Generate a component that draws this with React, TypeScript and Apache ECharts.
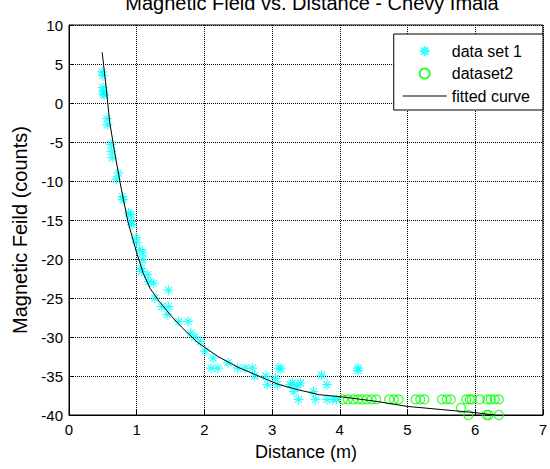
import React, { useEffect, useRef } from "react";
import * as echarts from "echarts";

const titleText = "Magnetic Field vs. Distance - Chevy Imala";
const xName = "Distance (m)";
const yName = "Magnetic Feild (counts)";
const seriesNames = ["data set 1", "dataset2", "fitted curve"];

const set1X = [0.49, 0.5, 0.5, 0.51, 0.51, 0.52, 0.56, 0.57, 0.62, 0.63, 0.64, 0.7, 0.73, 0.79, 0.8, 0.88, 0.91, 0.92, 0.93, 0.99, 1.0, 1.04, 1.09, 1.09, 1.07, 1.07, 1.16, 1.18, 1.25, 1.47, 1.27, 1.37, 1.47, 1.45, 1.62, 1.76, 1.8, 1.86, 1.94, 2.01, 2.13, 2.1, 2.2, 2.35, 2.49, 2.6, 2.71, 2.74, 2.91, 2.93, 3.1, 3.13, 3.05, 3.08, 3.3, 3.42, 3.27, 3.37, 3.32, 3.39, 3.61, 3.64, 3.73, 3.81, 3.81, 3.9, 3.95, 4.27, 4.27];
const set1Y = [4.0, 3.5, 2.0, 1.5, 1.2, 1.0, -2.0, -2.8, -5.3, -6.2, -7.0, -9.8, -9.0, -12.0, -12.4, -14.1, -14.3, -15.2, -15.6, -17.3, -17.9, -18.8, -19.2, -20.1, -21.2, -21.6, -22.0, -22.9, -23.1, -24.0, -25.0, -26.1, -26.1, -27.1, -28.0, -28.0, -29.5, -30.0, -30.6, -31.8, -32.7, -34.0, -34.0, -33.3, -34.0, -34.0, -34.0, -35.0, -35.0, -36.1, -34.0, -34.1, -35.3, -36.1, -35.9, -35.9, -36.1, -36.3, -37.0, -38.0, -37.0, -38.0, -34.9, -36.1, -38.0, -38.0, -38.0, -34.0, -34.3];

const set2X = [4.05, 4.12, 4.2, 4.27, 4.33, 4.4, 4.47, 4.54, 4.73, 4.8, 4.87, 5.12, 5.19, 5.25, 5.51, 5.58, 5.64, 5.87, 5.92, 5.95, 6.07, 6.18, 6.23, 6.29, 6.35, 5.79, 5.9, 6.17, 6.2, 6.35];
const set2Y = [-38, -38, -38, -38, -38, -38, -38, -38, -38, -38, -38, -38, -38, -38, -38, -38, -38, -38, -38, -38, -38, -38, -38, -38, -38, -39.1, -40, -40, -40, -40];

const fitX = [0.49, 0.55, 0.6, 0.68, 0.77, 0.87, 1.0, 1.1, 1.2, 1.33, 1.5, 1.67, 1.9, 2.2, 2.5, 2.8, 3.1, 3.4, 3.7, 4.05, 4.5, 5.0, 5.5, 6.0, 6.3];
const fitY = [6.5, 1.9, -2.4, -6.6, -10.9, -15.2, -19.2, -21.9, -23.8, -25.4, -27.2, -28.8, -30.7, -32.5, -33.9, -35.0, -36.1, -36.8, -37.4, -37.7, -38.2, -38.9, -39.3, -39.7, -40];

const asterisk = "path://M5,0L5,10M0,5L10,5M1.5,1.5L8.5,8.5M1.5,8.5L8.5,1.5";
const lineIcon = "path://M0,0L44,0L44,1L0,1Z";
const FONT = "'Liberation Sans', Arial, sans-serif";

export default function App() {
  const ref = useRef<HTMLDivElement>(null);
  useEffect(() => {
    if (!ref.current) return;
    const chart = echarts.init(ref.current, undefined, { renderer: "svg" });
    const gridLine = { show: true, lineStyle: { color: "#000", type: "dotted" as const, width: 1 } };
    chart.setOption({
      animation: false,
      backgroundColor: "#fff",
      textStyle: { fontFamily: FONT },
      title: {
        text: titleText,
        left: 307,
        textAlign: "center",
        top: -12,
        textStyle: { fontFamily: FONT, fontSize: 20, fontWeight: "normal", color: "#000" },
      },
      grid: { left: 69, right: 1, top: 25, bottom: 54, show: true, borderColor: "#000", borderWidth: 1, backgroundColor: "#fff" },
      legend: {
        orient: "vertical",
        right: 7,
        top: 34,
        backgroundColor: "#fff",
        borderColor: "#000",
        borderWidth: 1,
        borderRadius: 0,
        padding: [8, 13, 5, 9],
        itemWidth: 44,
        itemHeight: 10,
        itemGap: 4.5,
        itemTextGap: 5,
        textStyle: { fontFamily: FONT, fontSize: 16, color: "#000", lineHeight: 18 },
        data: [
          { name: seriesNames[0] },
          { name: seriesNames[1] },
          { name: seriesNames[2], icon: lineIcon, itemStyle: { color: "#000", borderWidth: 0 } },
        ],
      },
      xAxis: {
        type: "value",
        min: 0,
        max: 7,
        interval: 1,
        name: xName,
        nameLocation: "middle",
        nameGap: 28,
        nameTextStyle: { fontFamily: FONT, fontSize: 18, color: "#000" },
        axisLine: { show: true, onZero: false, lineStyle: { color: "#000", width: 1 } },
        axisTick: { show: true, inside: true, length: 5, lineStyle: { color: "#000" } },
        axisLabel: { fontFamily: FONT, fontSize: 15, color: "#000", margin: 7 },
        splitLine: gridLine,
      },
      yAxis: {
        type: "value",
        min: -40,
        max: 10,
        interval: 5,
        name: yName,
        nameLocation: "middle",
        nameGap: 36,
        nameTextStyle: { fontFamily: FONT, fontSize: 20, color: "#000", padding: [0, 20, 0, 0] },
        axisLine: { show: true, onZero: false, lineStyle: { color: "#000", width: 1 } },
        axisTick: { show: true, inside: true, length: 5, lineStyle: { color: "#000" } },
        axisLabel: { fontFamily: FONT, fontSize: 15, color: "#000", margin: 6 },
        splitLine: gridLine,
      },
      series: [
        {
          name: seriesNames[0],
          type: "scatter",
          symbol: asterisk,
          symbolSize: 10,
          itemStyle: { color: "rgba(0,0,0,0)", borderColor: "#00FFFF", borderWidth: 1.2 },
          data: set1X.map((x, i) => [x, set1Y[i]]),
          z: 3,
        },
        {
          name: seriesNames[1],
          type: "scatter",
          symbol: "circle",
          symbolSize: 9,
          itemStyle: { color: "rgba(0,0,0,0)", borderColor: "#00FF00", borderWidth: 1.2 },
          data: set2X.map((x, i) => [x, set2Y[i]]),
          z: 3,
        },
        {
          name: seriesNames[2],
          type: "line",
          symbol: "none",
          lineStyle: { color: "#000", width: 1 },
          itemStyle: { color: "#000" },
          data: fitX.map((x, i) => [x, fitY[i]]),
          z: 4,
        },
      ],
    });
    return () => chart.dispose();
  }, []);
  return <div ref={ref} style={{ width: 550, height: 469, position: "absolute", left: 0, top: 0 }} />;
}
